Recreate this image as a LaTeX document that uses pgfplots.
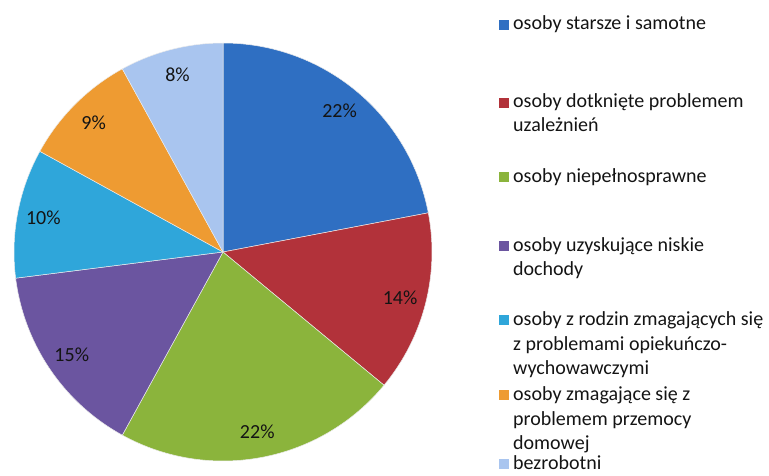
\documentclass[border=0pt]{standalone}
\usepackage{pgfplots}
\usepackage{pgfplotstable}
\pgfplotsset{compat=1.18}
\usepackage{fontspec}
\setmainfont{Carlito}
\definecolor{slice0}{HTML}{2F6FC2}
\definecolor{slice1}{HTML}{B2323A}
\definecolor{slice2}{HTML}{8BB43C}
\definecolor{slice3}{HTML}{6B55A0}
\definecolor{slice4}{HTML}{2FA6DA}
\definecolor{slice5}{HTML}{EE9B32}
\definecolor{slice6}{HTML}{A9C5EF}
\definecolor{txt}{HTML}{141414}

\pgfplotstableread{
value
22
14
22
15
10
9
8
}\piedata

\begin{document}
\begin{tikzpicture}[font=\fontsize{20}{24}\selectfont, text=txt]
\path[use as bounding box] (0,0) rectangle (769pt,475pt);
\begin{axis}[at={(223pt,223pt)}, anchor=center, x=209pt, y=209pt,
  xmin=-1, xmax=1, ymin=-1, ymax=1, hide axis, clip=false]
\pgfplotstablegetrowsof{\piedata}
\pgfmathtruncatemacro\N{\pgfplotsretval-1}
\def\cum{0}
\pgfplotsforeachungrouped \i in {0,...,\N}{%
  \pgfplotstablegetelem{\i}{value}\of\piedata
  \let\v\pgfplotsretval
  \pgfmathsetmacro\a{90-3.6*\cum}%
  \pgfmathsetmacro\b{90-3.6*(\cum+\v)}%
  \pgfmathsetmacro\m{(\a+\b)/2}%
  \pgfmathsetmacro\lx{0.875*cos(\m)}%
  \pgfmathsetmacro\ly{0.875*sin(\m)}%
  \pgfmathsetmacro\cumnew{\cum+\v}%
  \let\cum\cumnew
  \edef\temp{%
    \noexpand\fill[slice\i, draw=white!85!gray, line width=0.5pt, line join=round]
      (axis cs:0,0) -- (axis cs:{cos(\a)},{sin(\a)})
      arc[start angle=\a, end angle=\b, radius=209pt] -- cycle;
    \noexpand\node[text=txt] at (axis cs:\lx,\ly) {\v\noexpand\%};
  }%
  \temp
}
\end{axis}
% legend
\def\sq#1#2{\fill[#1] (499pt,{475pt-#2pt-5pt}) rectangle (509pt,{475pt-#2pt+5pt});}
\def\ln#1#2{\node[anchor=base west, inner sep=0pt] at (513pt,{470pt-#1pt}) {#2};}
\sq{slice0}{25}\ln{25}{osoby starsze i samotne}
\sq{slice1}{103}\ln{103}{osoby dotknięte problemem}\ln{127}{uzależnień}
\sq{slice2}{177}\ln{177}{osoby niepełnosprawne}
\sq{slice3}{246}\ln{246}{osoby uzyskujące niskie}\ln{270}{dochody}
\sq{slice4}{320}\ln{320}{osoby z rodzin zmagających się}\ln{345}{z problemami opiekuńczo-}\ln{369}{wychowawczymi}
\sq{slice5}{395}\ln{395}{osoby zmagające się z}\ln{420}{problemem przemocy}\ln{444}{domowej}
\sq{slice6}{464}\ln{464}{bezrobotni}
\end{tikzpicture}
\end{document}
